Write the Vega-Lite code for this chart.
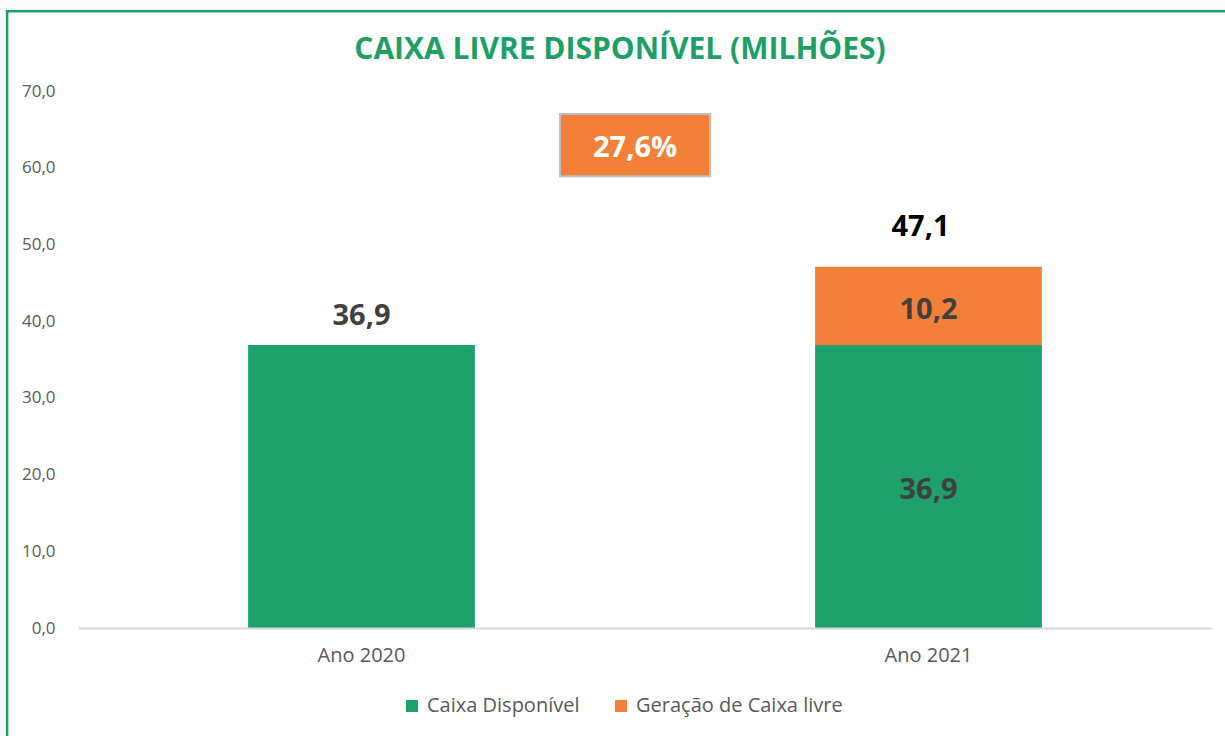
{
  "$schema": "https://vega.github.io/schema/vega-lite/v6.json",
  "width": 1134,
  "height": 537,
  "autosize": {"type": "none"},
  "padding": {"left": 78, "top": 91, "right": 13, "bottom": 108},
  "background": "#fafafa",
  "config": {
    "locale": {"number": {"decimal": ",", "thousands": ".", "grouping": [3], "currency": ["R$ ", ""]}},
    "view": {"stroke": null},
    "font": "Open Sans"
  },
  "title": {
    "text": "CAIXA LIVRE DISPONÍVEL (MILHÕES)",
    "font": "Open Sans",
    "fontSize": 30,
    "fontWeight": "bold",
    "color": "#1E9F66",
    "anchor": "middle",
    "frame": "group",
    "dx": -25,
    "offset": -55
  },
  "datasets": {
    "barras": [
      {"ano": "Ano 2020", "serie": "Caixa Disponível", "valor": 36.9, "ordem": 1},
      {"ano": "Ano 2021", "serie": "Caixa Disponível", "valor": 36.9, "ordem": 1},
      {"ano": "Ano 2021", "serie": "Geração de Caixa livre", "valor": 10.2, "ordem": 2}
    ],
    "variacao": [{"variacao": 0.276}]
  },
  "layer": [
    {
      "data": {"values": [{}]},
      "mark": {"type": "rect", "fill": "#ffffff", "stroke": "#1E9F66", "strokeWidth": 2.5},
      "encoding": {
        "x": {"datum": -0.125, "type": "quantitative", "scale": {"domain": [0, 2], "nice": false, "zero": false}, "axis": null},
        "x2": {"datum": 2.1},
        "y": {"datum": 80.4, "type": "quantitative", "scale": {"domain": [0, 70], "nice": false}, "axis": null},
        "y2": {"datum": -20}
      }
    },
    {
      "data": {"name": "barras"},
      "transform": [
        {"stack": "valor", "groupby": ["ano"], "sort": [{"field": "ordem", "order": "ascending"}], "as": ["v0", "v1"]},
        {"calculate": "(datum.v0 + datum.v1) / 2", "as": "meio"}
      ],
      "encoding": {
        "x": {
          "field": "ano",
          "type": "nominal",
          "scale": {"paddingInner": 0.6, "paddingOuter": 0.3},
          "axis": {
            "title": null,
            "labelAngle": 0,
            "ticks": false,
            "domainColor": "#d9d9d9",
            "domainWidth": 2,
            "labelFontSize": 20,
            "labelColor": "#595959",
            "labelFont": "Open Sans",
            "labelPadding": 17,
            "zindex": 1
          }
        }
      },
      "layer": [
        {
          "mark": {"type": "bar"},
          "encoding": {
            "y": {
              "field": "v1",
              "type": "quantitative",
              "scale": {"domain": [0, 70], "nice": false},
              "axis": {
                "orient": "left",
                "title": null,
                "values": [0, 10, 20, 30, 40, 50, 60, 70],
                "format": ".1f",
                "grid": false,
                "domain": false,
                "ticks": false,
                "labelFontSize": 17,
                "labelColor": "#595959",
                "labelFont": "Open Sans",
                "labelPadding": 23,
                "zindex": 1
              }
            },
            "y2": {"field": "v0"},
            "color": {
              "field": "serie",
              "type": "nominal",
              "scale": {"domain": ["Caixa Disponível", "Geração de Caixa livre"], "range": ["#1EA16B", "#F38038"]},
              "legend": {
                "orient": "none",
                "legendX": 324,
                "legendY": 605,
                "direction": "horizontal",
                "title": null,
                "symbolType": "square",
                "symbolSize": 144,
                "symbolStrokeWidth": 0,
                "labelFontSize": 20,
                "labelColor": "#595959",
                "labelFont": "Open Sans",
                "labelLimit": 400,
                "columnPadding": 31,
                "labelOffset": 5
              }
            }
          }
        },
        {
          "transform": [{"filter": "datum.ano == 'Ano 2021'"}],
          "mark": {"type": "text", "font": "Open Sans", "fontSize": 29, "fontWeight": "bold", "color": "#404040", "baseline": "middle", "dy": 4},
          "encoding": {
            "y": {"field": "meio", "type": "quantitative"},
            "text": {"field": "valor", "type": "quantitative", "format": ".1f"}
          }
        },
        {
          "transform": [{"filter": "datum.ano == 'Ano 2020'"}],
          "mark": {"type": "text", "font": "Open Sans", "fontSize": 29, "fontWeight": "bold", "color": "#404040", "baseline": "middle", "dy": -29},
          "encoding": {
            "y": {"field": "v1", "type": "quantitative"},
            "text": {"field": "valor", "type": "quantitative", "format": ".1f"}
          }
        },
        {
          "transform": [{"filter": "datum.ano == 'Ano 2021' && datum.ordem == 2"}],
          "mark": {"type": "text", "font": "Open Sans", "fontSize": 29, "fontWeight": "bold", "color": "#000000", "baseline": "middle", "dy": -40, "dx": -8},
          "encoding": {
            "y": {"field": "v1", "type": "quantitative"},
            "text": {"field": "v1", "type": "quantitative", "format": ".1f"}
          }
        }
      ]
    },
    {
      "data": {"name": "variacao"},
      "encoding": {
        "x": {"datum": 0.85, "type": "quantitative", "scale": {"domain": [0, 2], "nice": false, "zero": false}, "axis": null},
        "y": {"datum": 67.0, "type": "quantitative", "scale": {"domain": [0, 70], "nice": false}, "axis": null}
      },
      "layer": [
        {
          "mark": {"type": "rect", "fill": "#F38038", "stroke": "#BFBFBF", "strokeWidth": 2},
          "encoding": {
            "x2": {"datum": 1.115},
            "y2": {"datum": 58.9}
          }
        },
        {
          "mark": {"type": "text", "font": "Open Sans", "fontSize": 29, "fontWeight": "bold", "color": "#ffffff", "baseline": "middle", "align": "center", "dy": 3},
          "encoding": {
            "x": {"datum": 0.9825, "type": "quantitative"},
            "y": {"datum": 63, "type": "quantitative"},
            "text": {"field": "variacao", "type": "quantitative", "format": ".1%"}
          }
        }
      ]
    }
  ],
  "resolve": {"scale": {"x": "independent", "y": "independent"}}
}
